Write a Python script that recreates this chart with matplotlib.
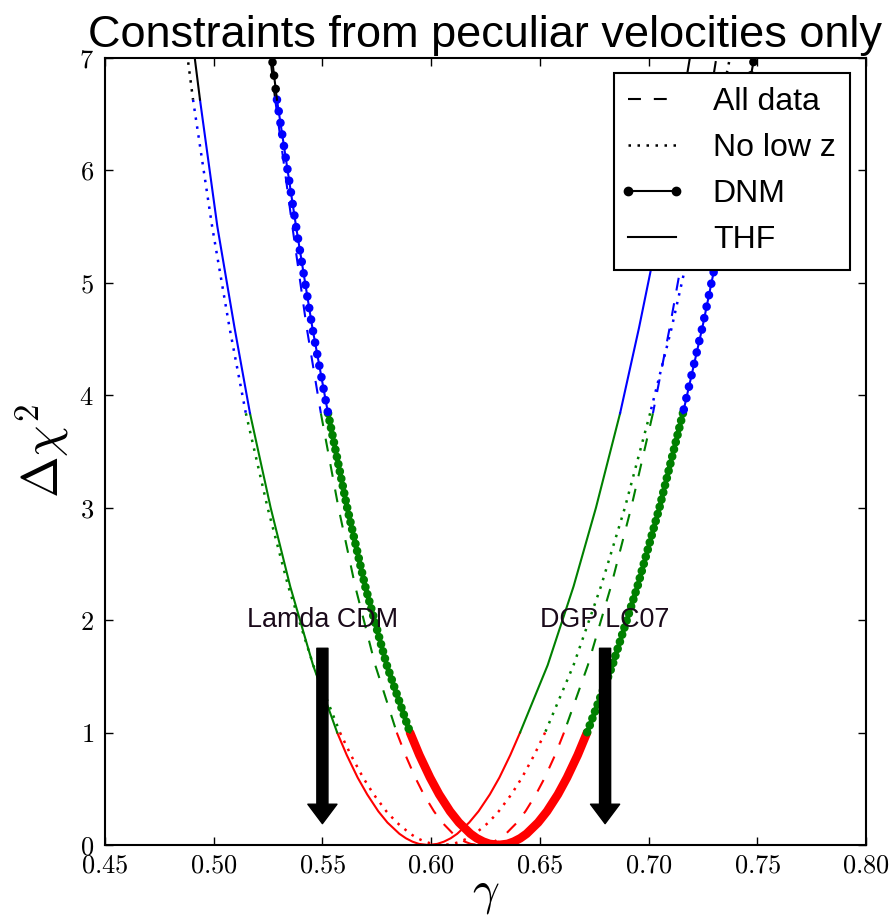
import numpy as np
import matplotlib
matplotlib.use('Agg')
import matplotlib.pyplot as plt
from matplotlib.lines import Line2D
from matplotlib.legend_handler import HandlerLine2D

plt.rcParams['mathtext.fontset'] = 'cm'
plt.rcParams['font.family'] = ['Liberation Sans', 'DejaVu Sans']

chi2_levels = [7.2, 6.63, 5.5, 4.6, 3.84, 3.0, 2.3, 1.6, 1.0, 0.8, 0.6, 0.45,
               0.3, 0.2, 0.1, 0.06, 0.03, 0.01, 0.0]

# gamma where each curve reaches those levels (left branch / right branch)
thf_left = [0.4900, 0.4937, 0.5017, 0.5096, 0.5167, 0.5262, 0.5352, 0.5457,
            0.5568, 0.5612, 0.5662, 0.5706, 0.5757, 0.5799, 0.5854, 0.5884,
            0.5914, 0.5944, 0.5986]
thf_right = [0.7207, 0.7158, 0.7051, 0.6956, 0.6869, 0.6758, 0.6655, 0.6536,
             0.6409, 0.6364, 0.6314, 0.6270, 0.6218, 0.6175, 0.6120, 0.6090,
             0.6059, 0.6028, 0.5986]

nolowz_left = [0.4867, 0.4905, 0.4993, 0.5073, 0.5148, 0.5248, 0.5343, 0.5458,
               0.5581, 0.5631, 0.5687, 0.5736, 0.5794, 0.5842, 0.5904, 0.5937,
               0.5971, 0.6006, 0.6053]
nolowz_right = [0.7395, 0.7335, 0.7211, 0.7106, 0.7007, 0.6891, 0.6781, 0.6655,
                0.6524, 0.6474, 0.6418, 0.6369, 0.6311, 0.6264, 0.6202, 0.6168,
                0.6134, 0.6100, 0.6053]

alldata_left = [0.5249, 0.5283, 0.5362, 0.5428, 0.5493, 0.5574, 0.5651, 0.5743,
                0.5842, 0.5882, 0.5927, 0.5966, 0.6013, 0.6051, 0.6101, 0.6127,
                0.6155, 0.6182, 0.6220]
alldata_right = [0.7328, 0.7281, 0.7181, 0.7097, 0.7020, 0.6920, 0.6827, 0.6721,
                 0.6611, 0.6570, 0.6523, 0.6482, 0.6434, 0.6395, 0.6344, 0.6316,
                 0.6288, 0.6259, 0.6220]

dnm_left = [0.5256, 0.5291, 0.5379, 0.5454, 0.5526, 0.5614, 0.5697, 0.5796,
            0.5903, 0.5946, 0.5995, 0.6037, 0.6087, 0.6128, 0.6181, 0.6210,
            0.6240, 0.6269, 0.6310]
dnm_right = [0.7504, 0.7451, 0.7342, 0.7247, 0.7158, 0.7050, 0.6949, 0.6834,
             0.6717, 0.6674, 0.6625, 0.6583, 0.6533, 0.6492, 0.6439, 0.6410,
             0.6380, 0.6351, 0.6310]

# confidence bands (Delta chi^2 bounds) and colours
band_edges = [0.0, 1.0, 3.84, 6.63, 7.2]
band_colors = ['#ff0000', '#008000', '#0000ff', '#000000']

# theoretical predictions
model_names = ['Lamda CDM', 'DGP LC07']
model_gamma = [0.55, 0.68]

x_ticks = [0.45, 0.50, 0.55, 0.60, 0.65, 0.70, 0.75, 0.80]
x_ticklabels = ['0.45', '0.50', '0.55', '0.60', '0.65', '0.70', '0.75', '0.80']
y_ticks = [0, 1, 2, 3, 4, 5, 6, 7]
legend_labels = ['All data', 'No low z', 'DNM', 'THF']

DASHED = (0, (6.2, 6.2))
DOTTED = (0, (1.0, 2.6))
LW = 1.5
LW_DOT = 1.8

fig = plt.figure(figsize=(8.94, 9.17), dpi=100)
ax = fig.add_axes([0.1174, 0.0785, 0.8513, 0.8582])

lv = np.array(chi2_levels)


def bands(branch):
    g = np.array(branch)
    for lo, hi, col in zip(band_edges[:-1], band_edges[1:], band_colors):
        m = (lv >= lo) & (lv <= hi)
        yield g[m], lv[m], col


def draw_simple(left, right, ls, lw):
    for branch in (left, right):
        for g, c, col in bands(branch):
            ax.plot(g, c, color=col, lw=lw, linestyle=ls)


draw_simple(thf_left, thf_right, '-', LW)
draw_simple(nolowz_left, nolowz_right, DOTTED, LW_DOT)
draw_simple(alldata_left, alldata_right, DASHED, LW)

BEAD = 6.2
bead_gap = {'#008000': 0.85, '#0000ff': 1.35, '#000000': 1.55}
for branch in (dnm_left, dnm_right):
    for g, c, col in bands(branch):
        ax.plot(g, c, color=col, lw=LW)
        if col == '#ff0000':
            ax.plot(g, c, color=col, lw=BEAD, solid_capstyle='round',
                    solid_joinstyle='round')
        else:
            ax.plot(g, c, color=col, lw=BEAD,
                    linestyle=(0, (0.01, bead_gap[col])),
                    dash_capstyle='round')

for name, gm in zip(model_names, model_gamma):
    ax.annotate('', xy=(gm, 0.19), xytext=(gm, 1.75),
                arrowprops=dict(facecolor='black', edgecolor='black', width=8,
                                headwidth=21, headlength=14, shrink=0))
    ax.text(gm, 1.94, name, ha='center', va='baseline', fontsize=19.4,
            color='#1a0a1a')

ax.set_xlim(0.45, 0.80)
ax.set_ylim(0, 7)
ax.set_xticks(x_ticks, ['$%s$' % t for t in x_ticklabels])
ax.set_yticks(y_ticks, ['$%d$' % t for t in y_ticks])
ax.tick_params(direction='in', length=6, width=1, top=True, right=True,
               labelsize=19)
ax.tick_params(axis='x', pad=6)
ax.tick_params(axis='y', pad=8)
for s in ax.spines.values():
    s.set_linewidth(1.5)

ax.set_title('Constraints from peculiar velocities only', fontsize=32.5, pad=8)
ax.set_xlabel(r'$\gamma$', fontsize=34, labelpad=-4)
ax.set_ylabel(r'$\Delta\chi^2$', fontsize=36, labelpad=6)

handles = [
    Line2D([], [], color='k', lw=LW, linestyle=DASHED),
    Line2D([], [], color='k', lw=LW_DOT, linestyle=DOTTED),
    Line2D([], [], color='k', lw=LW, marker='o', markersize=6),
    Line2D([], [], color='k', lw=LW),
]
leg = ax.legend(handles, legend_labels, loc='upper right',
                bbox_to_anchor=(0.979, 0.981), borderaxespad=0, fontsize=23,
                frameon=True, fancybox=False, framealpha=1, edgecolor='k',
                numpoints=2, handlelength=1.5, handletextpad=1.15,
                labelspacing=0.5, borderpad=0.45,
                handler_map={Line2D: HandlerLine2D(marker_pad=0)})
leg.get_frame().set_linewidth(1.5)

fig.savefig('out.png', dpi=100)
